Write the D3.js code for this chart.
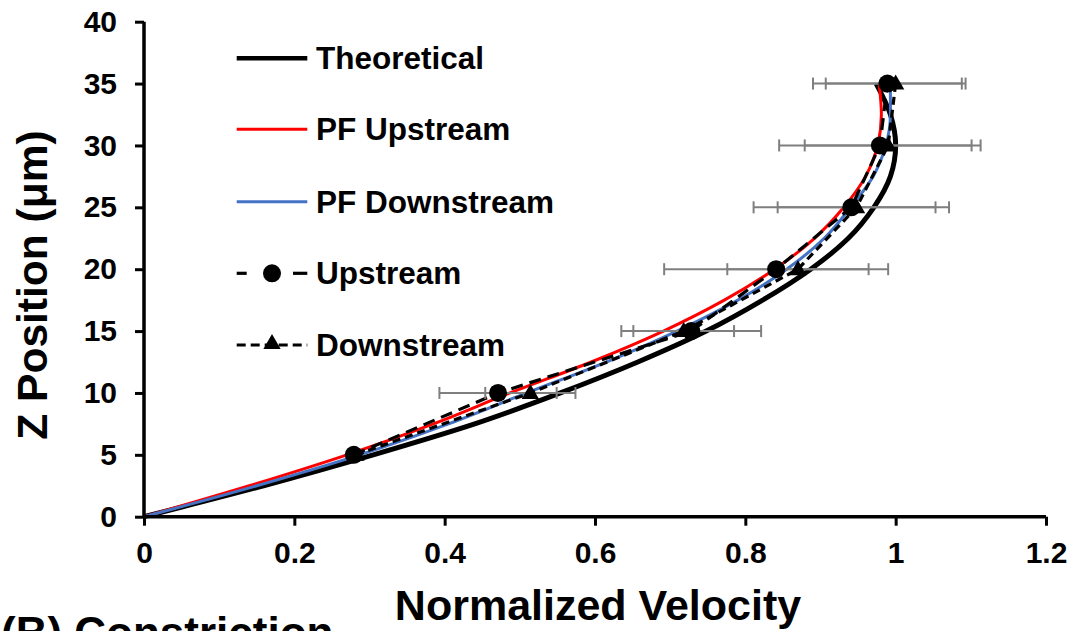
<!DOCTYPE html>
<html>
<head>
<meta charset="utf-8">
<script src="https://cdn.jsdelivr.net/npm/d3@7"></script>
<style>
  html, body { margin: 0; padding: 0; background: #fff; }
  svg { display: block; }
  text { font-family: "Liberation Sans", Arial, sans-serif; font-weight: bold; fill: #000; }
</style>
</head>
<body>
<svg id="chart" width="1077" height="631"></svg>
<script>
// ---- data ----
const profileZ     = [0, 2.5, 5, 7.5, 10, 12.5, 15, 17.5, 20, 22.5, 25, 27.5, 30, 32.5, 35];
const theoreticalV = [0, 0.159, 0.305, 0.44, 0.554, 0.657, 0.748, 0.823, 0.887, 0.937, 0.971, 0.993, 1.0, 0.993, 0.974];
const pfUpstreamV  = [0, 0.14, 0.27, 0.385, 0.487, 0.595, 0.691, 0.772, 0.839, 0.892, 0.931, 0.96, 0.976, 0.981, 0.978];
const pfDownstreamV= [0, 0.15, 0.287, 0.405, 0.509, 0.615, 0.709, 0.79, 0.855, 0.905, 0.94, 0.97, 0.987, 0.993, 0.993];

const measZ          = [5, 10, 15, 20, 25, 30, 35];
const upstreamV      = [0.279, 0.471, 0.728, 0.841, 0.941, 0.979, 0.989];
const upstreamErr    = [0, 0.078, 0.093, 0.149, 0.13, 0.134, 0.099];
const downstreamV    = [0.282, 0.514, 0.718, 0.870, 0.948, 0.990, 1.0];
const downstreamErr  = [0, 0.06, 0.067, 0.094, 0.105, 0.111, 0.093];

const xTicks = [0, 0.2, 0.4, 0.6, 0.8, 1, 1.2];
const yTicks = [0, 5, 10, 15, 20, 25, 30, 35, 40];

const legendLabels = ["Theoretical", "PF Upstream", "PF Downstream", "Upstream", "Downstream"];
const xTitle = "Normalized Velocity";
const yTitle = "Z Position (μm)";
const panelLabel = "(B) Constriction";

// ---- drawing ----
const svg = d3.select("#chart");
svg.append("rect").attr("width", 1077).attr("height", 631).attr("fill", "#fff");

const x = d3.scaleLinear().domain([0, 1.2]).range([144, 1046]);
const y = d3.scaleLinear().domain([0, 40]).range([516.7, 21.7]);

const RED = "#FF0000", BLUE = "#4472C4", GRAY = "#7F7F7F";

// profile curves
const profLine = d3.line().x(d => x(d[0])).y(d => y(d[1])).curve(d3.curveMonotoneY);
function prof(vals) { return vals.map((v, i) => [v, profileZ[i]]); }

const plot = svg.append("g");
plot.append("path").attr("d", profLine(prof(theoreticalV)))
  .attr("fill", "none").attr("stroke", "#000").attr("stroke-width", 5);
plot.append("path").attr("d", profLine(prof(pfUpstreamV)))
  .attr("fill", "none").attr("stroke", RED).attr("stroke-width", 3);
plot.append("path").attr("d", profLine(prof(pfDownstreamV)))
  .attr("fill", "none").attr("stroke", BLUE).attr("stroke-width", 3);

// measured series
const measLine = d3.line().x(d => x(d[0])).y(d => y(d[1]));
const up = upstreamV.map((v, i) => [v, measZ[i], upstreamErr[i]]);
const down = downstreamV.map((v, i) => [v, measZ[i], downstreamErr[i]]);

plot.append("path").attr("d", measLine(up))
  .attr("fill", "none").attr("stroke", "#000").attr("stroke-width", 3.2)
  .attr("stroke-dasharray", "12,7");
plot.append("path").attr("d", measLine(down))
  .attr("fill", "none").attr("stroke", "#000").attr("stroke-width", 3.2)
  .attr("stroke-dasharray", "8,5");

// error bars
function errBars(data) {
  const g = plot.append("g").attr("stroke", GRAY).attr("stroke-width", 2).attr("fill", "none");
  data.filter(d => d[2] > 0).forEach(d => {
    const y0 = y(d[1]);
    g.append("line").attr("x1", x(d[0] - d[2])).attr("x2", x(d[0] + d[2])).attr("y1", y0).attr("y2", y0);
    [d[0] - d[2], d[0] + d[2]].forEach(v => {
      g.append("line").attr("x1", x(v)).attr("x2", x(v)).attr("y1", y0 - 6).attr("y2", y0 + 6);
    });
  });
}
errBars(up);
errBars(down);

// markers
const tri = d3.symbol().type(d3.symbolTriangle).size(130);
plot.append("g").selectAll("path").data(down).join("path")
  .attr("d", tri)
  .attr("transform", d => `translate(${x(d[0])},${y(d[1]) + 1})`)
  .attr("fill", "#000");
plot.append("g").selectAll("circle").data(up).join("circle")
  .attr("cx", d => x(d[0])).attr("cy", d => y(d[1])).attr("r", 9)
  .attr("fill", "#000");

// axes
const xAxis = d3.axisBottom(x).tickValues(xTicks).tickFormat(d3.format("~g")).tickSizeOuter(0).tickSize(9).tickPadding(16);
const yAxis = d3.axisLeft(y).tickValues(yTicks).tickFormat(d3.format("~g")).tickSizeOuter(0).tickSize(9).tickPadding(18);

const gx = svg.append("g").attr("transform", `translate(0,${y(0)})`).call(xAxis);
const gy = svg.append("g").attr("transform", `translate(${x(0)},0)`).call(yAxis);
[gx, gy].forEach(g => {
  g.select(".domain").attr("stroke", "#000").attr("stroke-width", 3.5);
  g.selectAll(".tick line").attr("stroke", "#000").attr("stroke-width", 3);
  g.selectAll(".tick text").attr("font-size", 30)
    .attr("font-family", '"Liberation Sans", Arial, sans-serif').attr("font-weight", "bold").attr("fill", "#000");
});
gx.select(".domain").attr("d", `M${x(0)},0H${x(1.2)}`);
gy.select(".domain").attr("d", `M0,${y(40)}V${y(0)}`);

// titles
svg.append("text").attr("x", 598).attr("y", 620).attr("text-anchor", "middle")
  .attr("font-size", 43).text(xTitle);
svg.append("text").attr("transform", "translate(47,285) rotate(-90)").attr("text-anchor", "middle")
  .attr("font-size", 42.5).text(yTitle);
svg.append("text").attr("x", 1).attr("y", 648).attr("font-size", 44).text(panelLabel);

// legend
const legY = [58.3, 129.3, 201.7, 273.3, 345];
const lx1 = 236.7, lx2 = 307.3, ltx = 316;
const leg = svg.append("g");
leg.append("line").attr("x1", lx1).attr("x2", lx2).attr("y1", legY[0]).attr("y2", legY[0])
  .attr("stroke", "#000").attr("stroke-width", 4.5);
leg.append("line").attr("x1", lx1).attr("x2", lx2).attr("y1", legY[1]).attr("y2", legY[1])
  .attr("stroke", RED).attr("stroke-width", 3);
leg.append("line").attr("x1", lx1).attr("x2", lx2).attr("y1", legY[2]).attr("y2", legY[2])
  .attr("stroke", BLUE).attr("stroke-width", 3);
// upstream sample: dash, circle, dash
leg.append("line").attr("x1", lx1).attr("x2", 246.7).attr("y1", legY[3]).attr("y2", legY[3])
  .attr("stroke", "#000").attr("stroke-width", 3.2);
leg.append("line").attr("x1", 293).attr("x2", lx2).attr("y1", legY[3]).attr("y2", legY[3])
  .attr("stroke", "#000").attr("stroke-width", 3.2);
leg.append("circle").attr("cx", 272).attr("cy", legY[3]).attr("r", 9).attr("fill", "#000");
// downstream sample
leg.append("line").attr("x1", lx1).attr("x2", lx2).attr("y1", legY[4]).attr("y2", legY[4])
  .attr("stroke", "#000").attr("stroke-width", 3.2).attr("stroke-dasharray", "9,5");
leg.append("path").attr("d", tri).attr("transform", `translate(272,${legY[4] - 1})`).attr("fill", "#000");

legendLabels.forEach((t, i) => {
  leg.append("text").attr("x", ltx).attr("y", legY[i] + 11).attr("font-size", 31.5).text(t);
});
</script>
</body>
</html>
